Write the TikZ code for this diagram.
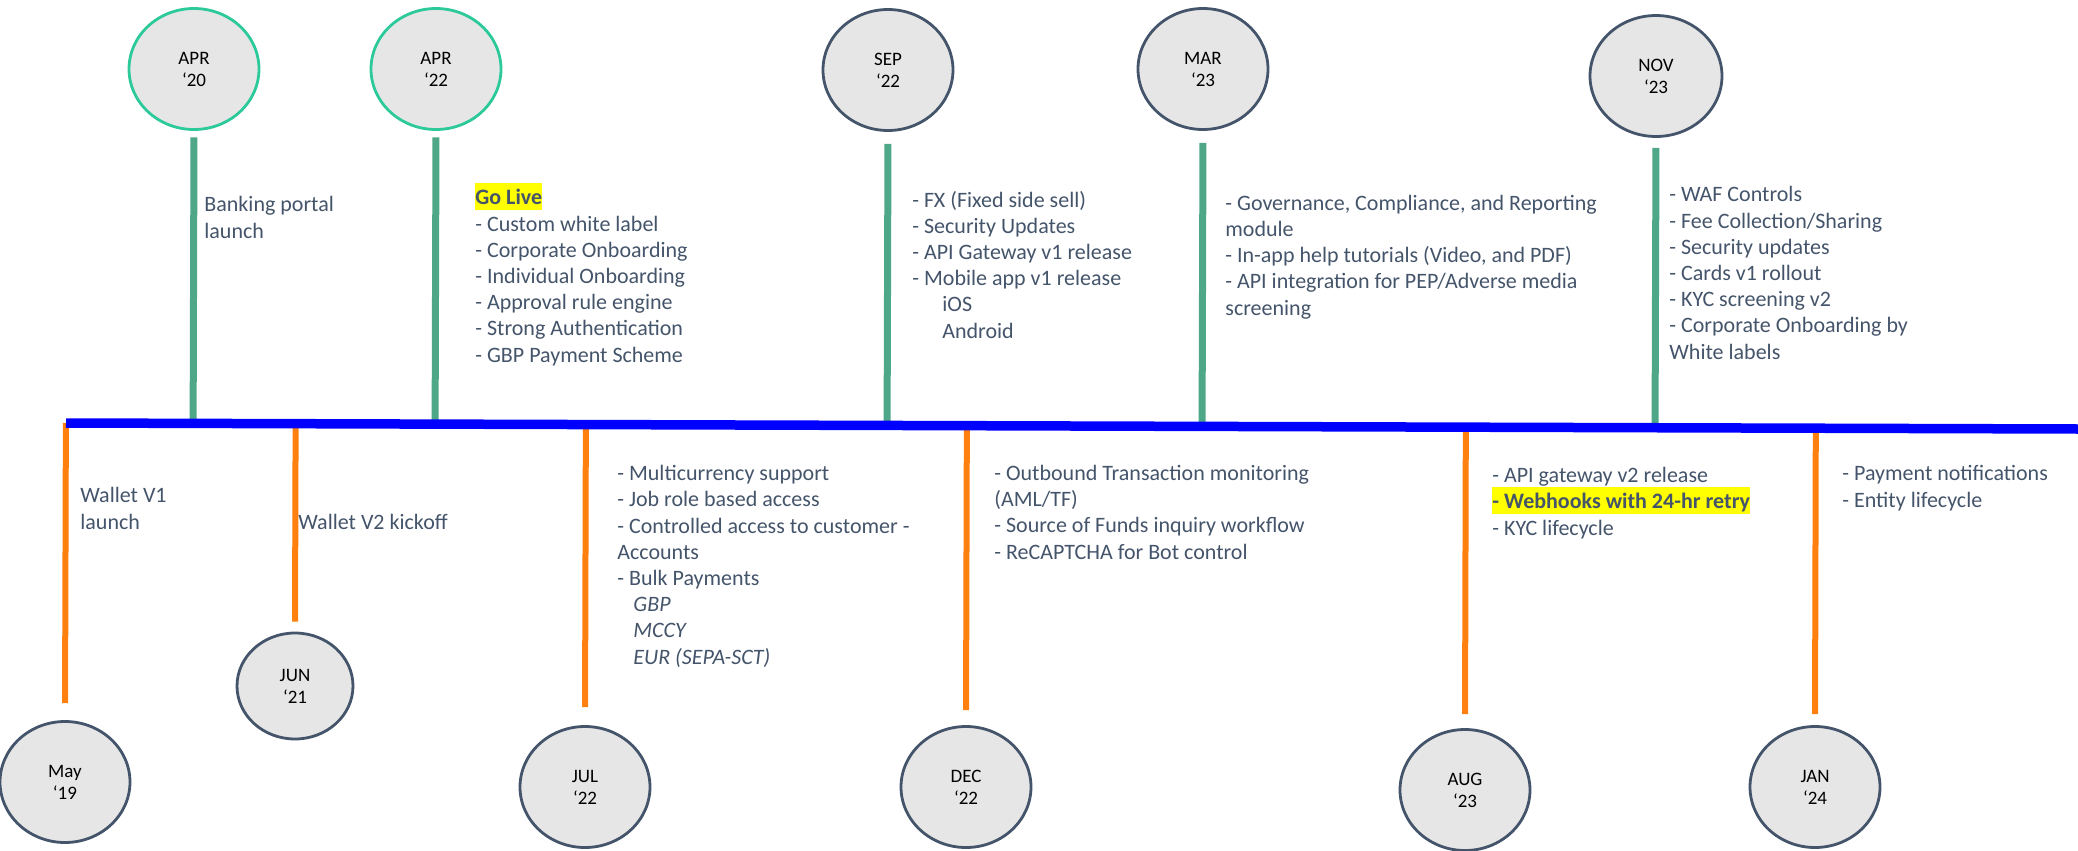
\documentclass[tikz,border=0pt]{standalone}
\usepackage{fontspec}
\setmainfont{Carlito}
\usetikzlibrary{shapes.geometric,calc}

\definecolor{slate}{HTML}{44546A}
\definecolor{dotfill}{HTML}{E7E6E6}
\definecolor{mint}{HTML}{2CC99A}
\definecolor{stemgreen}{HTML}{4EA887}
\definecolor{stemorange}{HTML}{FF7F0F}
\definecolor{lineblue}{HTML}{0000FF}
\definecolor{marker}{HTML}{FFFF00}

\newcommand{\hilite}[1]{{\setlength{\fboxsep}{0pt}\colorbox{marker}{\rule[-2.5pt]{0pt}{13.5pt}#1}}}

\begin{document}
\begin{tikzpicture}[x=0.5pt, y=-0.5pt,
    date/.style={ellipse, draw=slate, line width=1.4pt, fill=dotfill,
        minimum width=65pt, minimum height=60.5pt, inner sep=0pt,
        align=center, font=\fontsize{9.5}{11}\selectfont},
    golive/.style={date, draw=mint},
    note/.style={anchor=base west, align=left, inner sep=0pt, text=slate,
        font=\fontsize{11}{13.1}\selectfont},
    upstem/.style={stemgreen, line width=3.5pt},
    downstem/.style={stemorange, line width=3pt}]
    \useasboundingbox (0,0) rectangle (2078,851);

    % Time axis (end points)
    \coordinate (axisL) at (66,423);
    \coordinate (axisR) at (2078,429);

    % Milestones above the axis
    \node[golive] (apr20) at (194,69) {APR\\‘20};
    \node[golive] (apr22) at (436,69) {APR\\‘22};
    \node[date] (sep22) at (888,70) {SEP\\‘22};
    \node[date] (mar23) at (1203,69) {MAR\\‘23};
    \node[date, minimum width=66pt] (nov23) at (1656,76) {NOV\\‘23};

    % Milestones below the axis
    \node[date] (may19) at (65,782) {May\\‘19};
    \node[date, minimum width=58pt, minimum height=53pt] (jun21) at (295,686) {JUN\\‘21};
    \node[date] (jul22) at (585,787) {JUL\\‘22};
    \node[date] (dec22) at (966,787) {DEC\\‘22};
    \node[date] (aug23) at (1465,790) {AUG\\‘23};
    \node[date] (jan24) at (1815,787) {JAN\\‘24};

    % Stems down to the axis
    \draw[upstem, shorten <=3.25pt] (apr20.south) -- ($(axisL)!(apr20.south)!(axisR)$);
    \draw[upstem, shorten <=3.25pt] (apr22.south) -- ($(axisL)!(apr22.south)!(axisR)$);
    \draw[upstem, shorten <=6pt] (sep22.south) -- ($(axisL)!(sep22.south)!(axisR)$);
    \draw[upstem, shorten <=6pt] (mar23.south) -- ($(axisL)!(mar23.south)!(axisR)$);
    \draw[upstem, shorten <=5pt] (nov23.south) -- ($(axisL)!(nov23.south)!(axisR)$);

    % Stems up to the axis
    \draw[downstem, shorten <=8.5pt] (may19.north) -- ($(axisL)!(may19.north)!(axisR)$);
    \draw[downstem, shorten <=5pt] (jun21.north) -- ($(axisL)!(jun21.north)!(axisR)$);
    \draw[downstem, shorten <=9pt] (jul22.north) -- ($(axisL)!(jul22.north)!(axisR)$);
    \draw[downstem, shorten <=7.5pt] (dec22.north) -- ($(axisL)!(dec22.north)!(axisR)$);
    \draw[downstem, shorten <=7pt] (aug23.north) -- ($(axisL)!(aug23.north)!(axisR)$);
    \draw[downstem, shorten <=5.5pt] (jan24.north) -- ($(axisL)!(jan24.north)!(axisR)$);

    \draw[lineblue, line width=4.75pt] (axisL) -- (axisR);

    % Notes above (placed at the baseline of their last line)
    \node[note] (apr20txt) at (204,238) {Banking portal\\launch};
    \node[note] (apr22txt) at (475,362) {\hilite{\textbf{Go Live}}\\- Custom white label\\- Corporate Onboarding\\- Individual Onboarding\\- Approval rule engine\\- Strong Authentication\\- GBP Payment Scheme};
    \node[note] (sep22txt) at (912,338) {- FX (Fixed side sell)\\- Security Updates\\- API Gateway v1 release\\- Mobile app v1 release\\\hspace{15pt}iOS\\\hspace{15pt}Android};
    \node[note] (mar23txt) at (1225,315) {- Governance, Compliance, and Reporting\\module\\- In-app help tutorials (Video, and PDF)\\- API integration for PEP/Adverse media\\screening};
    \node[note] (nov23txt) at (1669,359) {- WAF Controls\\- Fee Collection/Sharing\\- Security updates\\- Cards v1 rollout\\- KYC screening v2\\- Corporate Onboarding by\\White labels};

    % Notes below
    \node[note] (may19txt) at (80,529) {Wallet V1\\launch};
    \node[note] (jun21txt) at (298,529) {Wallet V2 kickoff};
    \node[note] (jul22txt) at (617,664) {- Multicurrency support\\- Job role based access\\- Controlled access to customer -\\Accounts\\- Bulk Payments\\\hspace{8pt}\textit{GBP}\\\hspace{8pt}\textit{MCCY}\\\hspace{8pt}\textit{EUR (SEPA-SCT)}};
    \node[note] (dec22txt) at (994,559) {- Outbound Transaction monitoring\\(AML/TF)\\- Source of Funds inquiry workflow\\- ReCAPTCHA for Bot control};
    \node[note] (aug23txt) at (1492,535) {- API gateway v2 release\\\hilite{\textbf{- Webhooks with 24-hr retry}}\\- KYC lifecycle};
    \node[note] (jan24txt) at (1842,507) {- Payment notifications\\- Entity lifecycle};
\end{tikzpicture}
\end{document}
